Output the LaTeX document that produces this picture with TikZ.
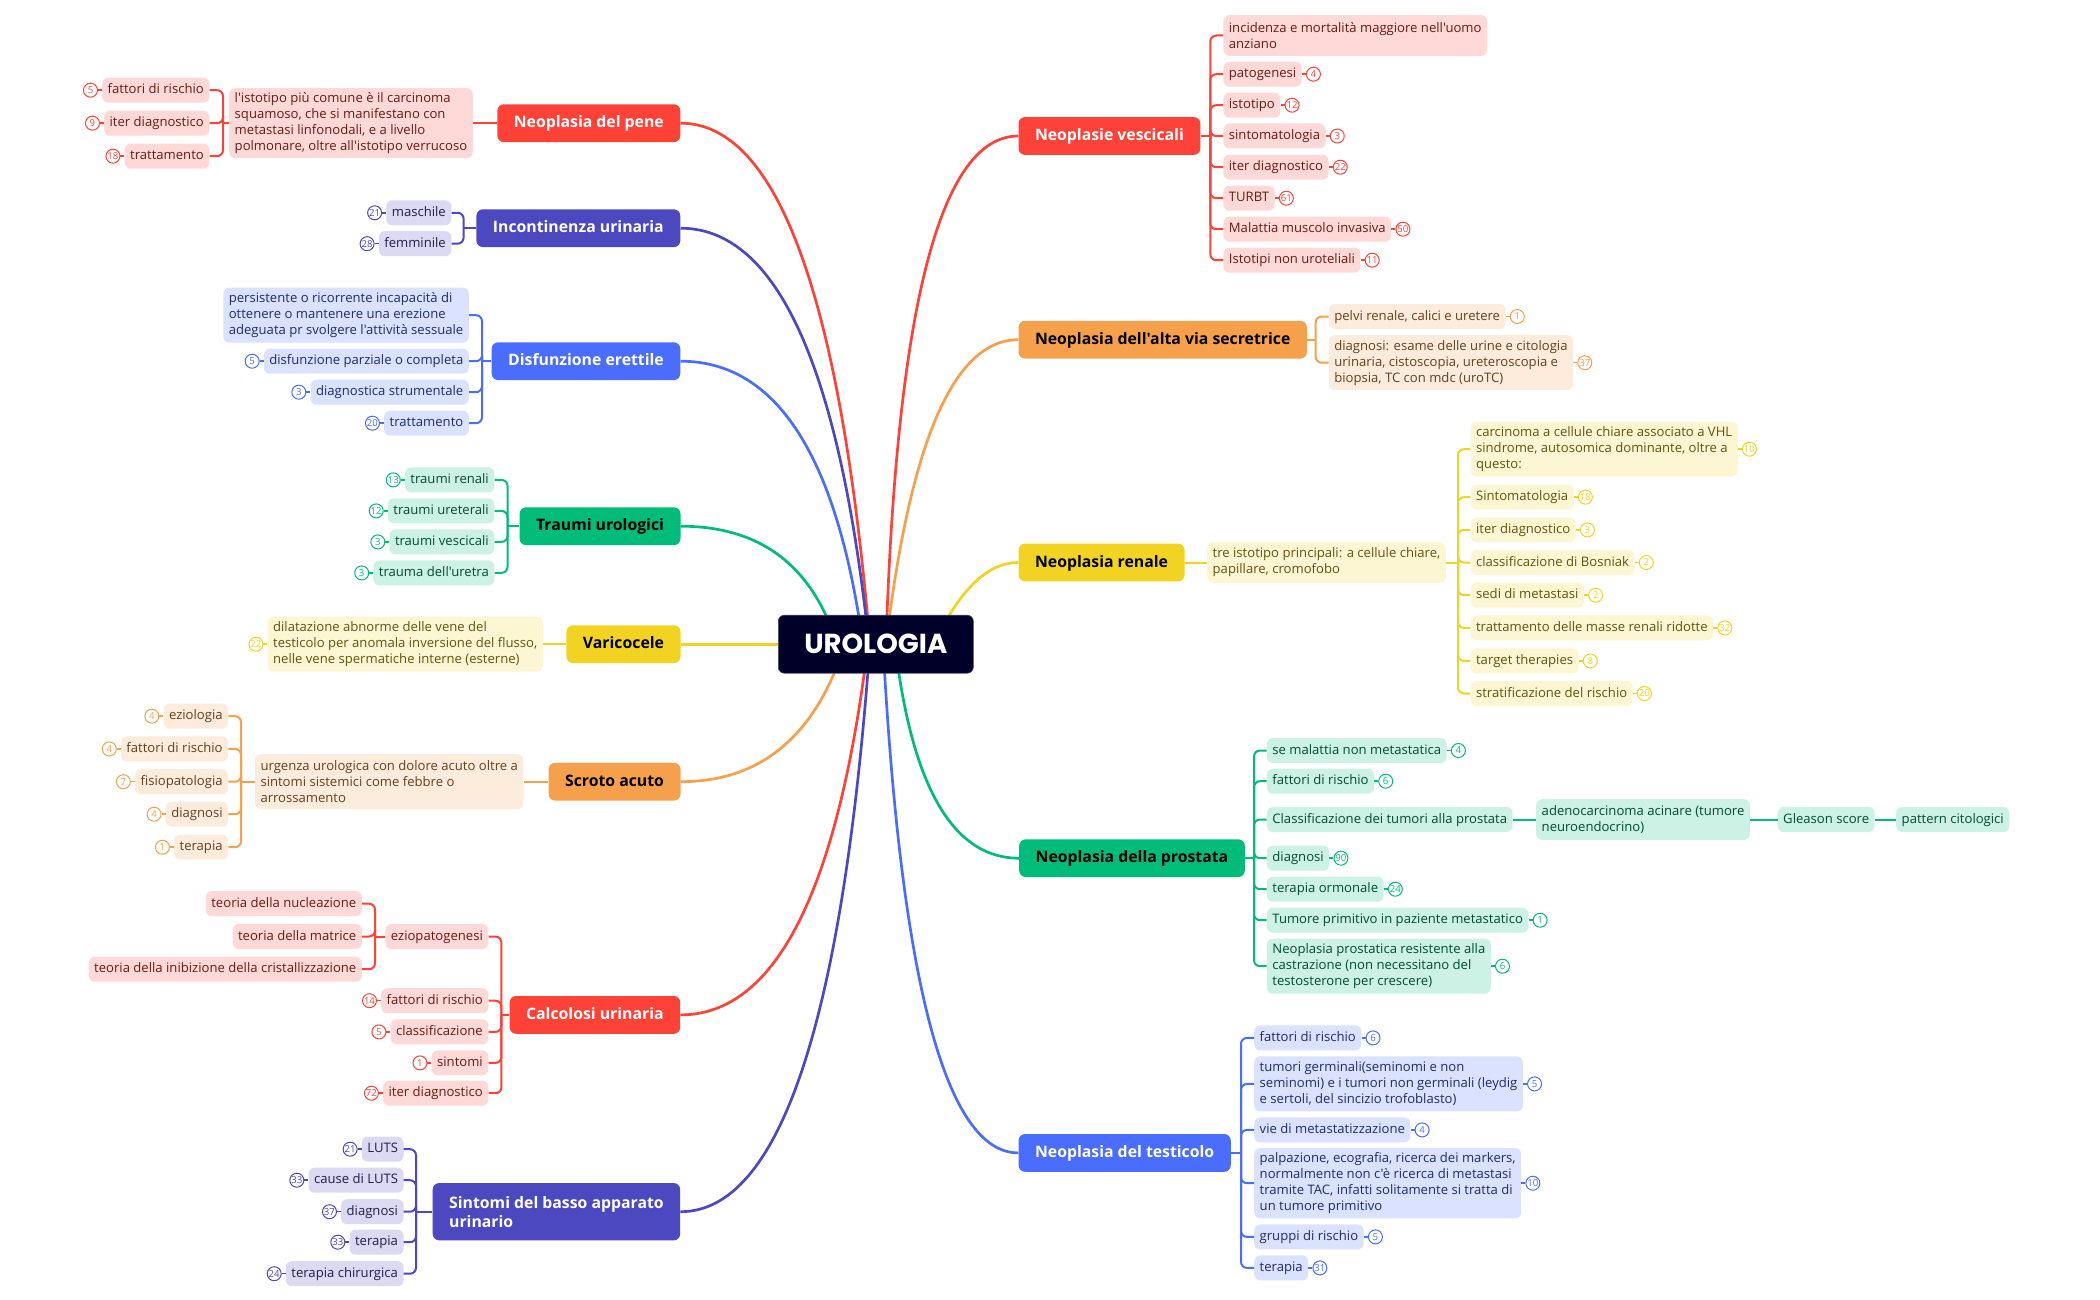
\documentclass[tikz,border=0pt]{standalone}
\usepackage{fontspec}
\setmainfont{Open Sans}[Ligatures=TeXOff]
\newfontfamily\rootfont{Poppins}
\usetikzlibrary{positioning,calc,backgrounds}

\definecolor{rootnavy}{HTML}{000028}
\definecolor{red}{HTML}{FF4238}
\definecolor{redlt}{HTML}{FFD9D7}
\definecolor{reddk}{HTML}{661A16}
\colorlet{redtxt}{white}
\definecolor{indigo}{HTML}{4C48BF}
\definecolor{indigolt}{HTML}{DBDAF2}
\definecolor{indigodk}{HTML}{1F1D4D}
\colorlet{indigotxt}{white}
\definecolor{blue}{HTML}{4A6DFF}
\definecolor{bluelt}{HTML}{DBE2FF}
\definecolor{bluedk}{HTML}{1E2C66}
\colorlet{bluetxt}{white}
\definecolor{green}{HTML}{00BC7B}
\definecolor{greenlt}{HTML}{CCF2E5}
\definecolor{greendk}{HTML}{004B31}
\colorlet{greentxt}{black}
\definecolor{yellow}{HTML}{F3D321}
\definecolor{yellowlt}{HTML}{FCF6D3}
\definecolor{yellowdk}{HTML}{61540D}
\colorlet{yellowtxt}{black}
\definecolor{orange}{HTML}{F7A04C}
\definecolor{orangelt}{HTML}{FDECDB}
\definecolor{orangedk}{HTML}{63401E}
\colorlet{orangetxt}{black}

\tikzset{
  rootbox/.style={rounded corners=6pt, fill=rootnavy, draw=rootnavy!70!white, line width=.6pt,
    text=white, minimum width=195pt, minimum height=58pt, inner sep=0pt,
    text height=19.2pt, text depth=0pt,
    font=\rootfont\bfseries\fontsize{27.5}{30}\selectfont},
  branch/.style={rounded corners=6.5pt, fill=#1, text=#1txt, inner xsep=16.5pt, inner ysep=0pt,
    minimum height=37.8pt, text height=12pt, text depth=3pt,
    font=\bfseries\fontsize{15.8}{19.2}\selectfont},
  leaf/.style={rounded corners=6pt, fill=#1lt, text=#1dk, inner xsep=5.5pt, inner ysep=0pt,
    minimum height=25pt, text height=10pt, text depth=2.5pt,
    font=\fontsize{13.1}{16}\selectfont},
  note/.style={rounded corners=6pt, fill=#1lt, text=#1dk, inner xsep=5.5pt, inner ysep=0pt,
    align=left, font=\fontsize{13.1}{16}\selectfont},
  badge/.style={circle, draw=#1, fill=white, text=#1, line width=1pt, minimum size=14pt,
    inner sep=0pt, font=\fontsize{9.6}{9.6}\selectfont},
  fork/.style={draw=#1, line width=2pt, rounded corners=6pt},
  stem/.style={draw=#1, line width=2pt},
  tick/.style={draw=#1, line width=1.5pt},
  trunk/.style={draw=#1, line width=2.7pt},
}

\begin{document}
\begin{tikzpicture}[x=1pt,y=-1pt]
  \useasboundingbox (0,-1.2) rectangle (2100,1298.8);

  \node[rootbox] (root) at (875.8,643) {UROLOGIA};

  % neoplasia del pene
  \node[branch=red, anchor=east] (pene) at (680.5,122) {Neoplasia del pene};
  \node[note=red, anchor=east, minimum height=70pt] (peneN) at (473,122) {l'istotipo più comune è il carcinoma\\squamoso, che si manifestano con\\metastasi linfonodali, e a livello\\polmonare, oltre all'istotipo verrucoso};
  \coordinate (peneS) at (223,122);
  \draw[stem=red] (pene) -- (peneN);
  \draw[stem=red] (peneN) -- (peneS);
  \foreach \i/\yy/\num/\txt in {1/89/5/fattori di rischio, 2/122/9/iter diagnostico, 3/155/18/trattamento} {
    \node[leaf=red, anchor=east] (peneL\i) at (209.5,\yy) {\txt};
    \node[badge=red, left=4pt of peneL\i] (peneB\i) {\num};
    \draw[tick=red] (peneB\i) -- (peneL\i);
    \draw[fork=red] (peneL\i.east) -| (peneS);
  }

  % incontinenza urinaria
  \node[branch=indigo, anchor=east] (inco) at (680.5,227) {Incontinenza urinaria};
  \coordinate (incoS) at (463.6,227);
  \draw[stem=indigo] (inco) -- (incoS);
  \foreach \i/\yy/\num/\txt in {1/211.6/21/maschile, 2/242.5/28/femminile} {
    \node[leaf=indigo, anchor=east] (incoL\i) at (451.5,\yy) {\txt};
    \node[badge=indigo, left=4pt of incoL\i] (incoB\i) {\num};
    \draw[tick=indigo] (incoB\i) -- (incoL\i);
    \draw[fork=indigo] (incoL\i.east) -| (incoS);
  }

  % disfunzione erettile
  \node[branch=blue, anchor=east] (disf) at (680.5,360) {Disfunzione erettile};
  \coordinate (disfS) at (482,360);
  \draw[stem=blue] (disf) -- (disfS);
  \node[note=blue, anchor=east, minimum height=55pt] (disfN) at (469,314) {persistente o ricorrente incapacità di\\ottenere o mantenere una erezione\\adeguata pr svolgere l'attività sessuale};
  \draw[fork=blue] (disfN.east) -| (disfS);
  \foreach \i/\yy/\num/\txt in {1/360/5/disfunzione parziale o completa, 2/391/3/diagnostica strumentale, 3/422/20/trattamento} {
    \node[leaf=blue, anchor=east] (disfL\i) at (469,\yy) {\txt};
    \node[badge=blue, left=4pt of disfL\i] (disfB\i) {\num};
    \draw[tick=blue] (disfB\i) -- (disfL\i);
    \draw[fork=blue] (disfL\i.east) -| (disfS);
  }

  % traumi urologici
  \node[branch=green, anchor=east] (trau) at (680.7,525) {Traumi urologici};
  \coordinate (trauS) at (507.5,525);
  \draw[stem=green] (trau) -- (trauS);
  \foreach \i/\yy/\num/\txt in {1/478.7/13/traumi renali, 2/509.7/12/traumi ureterali, 3/540.7/3/traumi vescicali, 4/571.7/3/trauma dell'uretra} {
    \node[leaf=green, anchor=east] (trauL\i) at (494.5,\yy) {\txt};
    \node[badge=green, left=4pt of trauL\i] (trauB\i) {\num};
    \draw[tick=green] (trauB\i) -- (trauL\i);
    \draw[fork=green] (trauL\i.east) -| (trauS);
  }

  % varicocele
  \node[branch=yellow, anchor=east] (vari) at (680.7,643) {Varicocele};
  \node[note=yellow, anchor=east, minimum height=55pt] (variN) at (543,643) {dilatazione abnorme delle vene del\\testicolo per anomala inversione del flusso,\\nelle vene spermatiche interne (esterne)};
  \node[badge=yellow, left=4pt of variN] (variB) {22};
  \draw[stem=yellow] (vari) -- (variN);
  \draw[tick=yellow] (variB) -- (variN);

  % scroto acuto
  \node[branch=orange, anchor=east] (scro) at (680.7,780.5) {Scroto acuto};
  \node[note=orange, anchor=east, minimum height=55pt] (scroN) at (523.6,780.5) {urgenza urologica con dolore acuto oltre a\\sintomi sistemici come febbre o\\arrossamento};
  \coordinate (scroS) at (241,780.5);
  \draw[stem=orange] (scro) -- (scroN);
  \draw[stem=orange] (scroN) -- (scroS);
  \foreach \i/\yy/\num/\txt in {1/715/4/eziologia, 2/747.7/4/fattori di rischio, 3/780.5/7/fisiopatologia, 4/813/4/diagnosi, 5/846/1/terapia} {
    \node[leaf=orange, anchor=east] (scroL\i) at (228.3,\yy) {\txt};
    \node[badge=orange, left=4pt of scroL\i] (scroB\i) {\num};
    \draw[tick=orange] (scroB\i) -- (scroL\i);
    \draw[fork=orange] (scroL\i.east) -| (scroS);
  }

  % calcolosi urinaria
  \node[branch=red, anchor=east] (calc) at (680.4,1013.7) {Calcolosi urinaria};
  \coordinate (calcS) at (501.4,1013.7);
  \draw[stem=red] (calc) -- (calcS);
  \node[leaf=red, anchor=east] (eziop) at (488.5,935.3) {eziopatogenesi};
  \coordinate (eziopS) at (375,935.3);
  \draw[fork=red] (eziop.east) -| (calcS);
  \draw[stem=red] (eziop) -- (eziopS);
  \foreach \i/\yy/\txt in {1/902.5/teoria della nucleazione, 2/935.3/teoria della matrice, 3/968/teoria della inibizione della cristallizzazione} {
    \node[leaf=red, anchor=east] (eziopL\i) at (362,\yy) {\txt};
    \draw[fork=red] (eziopL\i.east) -| (eziopS);
  }
  \foreach \i/\yy/\num/\txt in {1/999.5/14/fattori di rischio, 2/1030.7/5/classificazione, 3/1061.7/1/sintomi, 4/1092/72/iter diagnostico} {
    \node[leaf=red, anchor=east] (calcL\i) at (488.5,\yy) {\txt};
    \node[badge=red, left=4pt of calcL\i] (calcB\i) {\num};
    \draw[tick=red] (calcB\i) -- (calcL\i);
    \draw[fork=red] (calcL\i.east) -| (calcS);
  }

  % sintomi del basso apparato urinario
  \node[branch=indigo, anchor=east, align=left, minimum height=57.3pt, text height=, text depth=] (sint) at (680.4,1210.5) {Sintomi del basso apparato\\urinario};
  \coordinate (sintS) at (416,1210.5);
  \draw[stem=indigo] (sint) -- (sintS);
  \foreach \i/\yy/\num/\txt in {1/1148/21/LUTS, 2/1179/33/cause di LUTS, 3/1210.5/37/diagnosi, 4/1241/33/terapia, 5/1272.5/24/terapia chirurgica} {
    \node[leaf=indigo, anchor=east] (sintL\i) at (403.7,\yy) {\txt};
    \node[badge=indigo, left=4pt of sintL\i] (sintB\i) {\num};
    \draw[tick=indigo] (sintB\i) -- (sintL\i);
    \draw[fork=indigo] (sintL\i.east) -| (sintS);
  }

  % neoplasie vescicali
  \node[branch=red, anchor=west] (vesc) at (1018.3,134.8) {Neoplasie vescicali};
  \coordinate (vescS) at (1210.3,134.8);
  \draw[stem=red] (vesc) -- (vescS);
  \node[note=red, anchor=west, minimum height=40.7pt] (vescN) at (1223.2,34.3) {incidenza e mortalità maggiore nell'uomo\\anziano};
  \draw[fork=red] (vescN.west) -| (vescS);
  \foreach \i/\yy/\num/\txt in {1/73/4/patogenesi, 2/104/12/istotipo, 3/134.8/3/sintomatologia, 4/166/22/iter diagnostico, 5/197/61/TURBT, 6/228/50/Malattia muscolo invasiva, 7/259/11/Istotipi non uroteliali} {
    \node[leaf=red, anchor=west] (vescL\i) at (1223.2,\yy) {\txt};
    \node[badge=red, right=4pt of vescL\i] (vescB\i) {\num};
    \draw[tick=red] (vescL\i) -- (vescB\i);
    \draw[fork=red] (vescL\i.west) -| (vescS);
  }

  % neoplasia dell'alta via secretrice
  \node[branch=orange, anchor=west] (secr) at (1018.3,338.5) {Neoplasia dell'alta via secretrice};
  \coordinate (secrS) at (1315.6,338.5);
  \draw[stem=orange] (secr) -- (secrS);
  \node[leaf=orange, anchor=west] (secrL1) at (1328.6,315.3) {pelvi renale, calici e uretere};
  \node[badge=orange, right=4pt of secrL1] (secrB1) {1};
  \node[note=orange, anchor=west, minimum height=55pt] (secrL2) at (1328.6,361.5) {diagnosi: esame delle urine e citologia\\urinaria, cistoscopia, ureteroscopia e\\biopsia, TC con mdc (uroTC)};
  \node[badge=orange, right=4pt of secrL2] (secrB2) {37};
  \foreach \i in {1,2} {
    \draw[tick=orange] (secrL\i) -- (secrB\i);
    \draw[fork=orange] (secrL\i.west) -| (secrS);
  }

  % neoplasia renale
  \node[branch=yellow, anchor=west] (rena) at (1018.4,561.3) {Neoplasia renale};
  \node[note=yellow, anchor=west, minimum height=40.7pt] (renaN) at (1207,561.3) {tre istotipo principali: a cellule chiare,\\papillare, cromofobo};
  \coordinate (renaS) at (1458,561.3);
  \draw[stem=yellow] (rena) -- (renaN);
  \draw[stem=yellow] (renaN) -- (renaS);
  \node[note=yellow, anchor=west, minimum height=55pt] (renaL0) at (1470.4,448) {carcinoma a cellule chiare associato a VHL\\sindrome, autosomica dominante, oltre a\\questo:};
  \node[badge=yellow, right=4pt of renaL0] (renaB0) {10};
  \draw[tick=yellow] (renaL0) -- (renaB0);
  \draw[fork=yellow] (renaL0.west) -| (renaS);
  \foreach \i/\yy/\num/\txt in {1/496/18/Sintomatologia, 2/528.7/3/iter diagnostico, 3/561.3/2/classificazione di Bosniak, 4/594/2/sedi di metastasi, 5/626.7/32/trattamento delle masse renali ridotte, 6/659.7/8/target therapies, 7/692.3/20/stratificazione del rischio} {
    \node[leaf=yellow, anchor=west] (renaL\i) at (1470.4,\yy) {\txt};
    \node[badge=yellow, right=4pt of renaL\i] (renaB\i) {\num};
    \draw[tick=yellow] (renaL\i) -- (renaB\i);
    \draw[fork=yellow] (renaL\i.west) -| (renaS);
  }

  % neoplasia della prostata
  \node[branch=green, anchor=west] (pros) at (1019,857) {Neoplasia della prostata};
  \coordinate (prosS) at (1254,857);
  \draw[stem=green] (pros) -- (prosS);
  \foreach \i/\yy/\num/\txt in {1/749.3/4/se malattia non metastatica, 2/780/6/fattori di rischio, 3/857/90/diagnosi, 4/888/24/terapia ormonale, 5/919/1/Tumore primitivo in paziente metastatico} {
    \node[leaf=green, anchor=west] (prosL\i) at (1266.7,\yy) {\txt};
    \node[badge=green, right=4pt of prosL\i] (prosB\i) {\num};
    \draw[tick=green] (prosL\i) -- (prosB\i);
    \draw[fork=green] (prosL\i.west) -| (prosS);
  }
  \node[note=green, anchor=west, minimum height=55pt] (prosL6) at (1266.7,965) {Neoplasia prostatica resistente alla\\castrazione (non necessitano del\\testosterone per crescere)};
  \node[badge=green, right=4pt of prosL6] (prosB6) {6};
  \draw[tick=green] (prosL6) -- (prosB6);
  \draw[fork=green] (prosL6.west) -| (prosS);
  % the chain of the classification
  \node[leaf=green, anchor=west] (clas) at (1266.7,818.3) {Classificazione dei tumori alla prostata};
  \node[note=green, anchor=west, minimum height=40.7pt] (aden) at (1536,818.3) {adenocarcinoma acinare (tumore\\neuroendocrino)};
  \node[leaf=green, anchor=west] (glea) at (1777.5,818.3) {Gleason score};
  \node[leaf=green, anchor=west] (patt) at (1896,818.3) {pattern citologici};
  \draw[fork=green] (clas.west) -| (prosS);
  \draw[stem=green] (clas) -- (aden);
  \draw[stem=green] (aden) -- (glea);
  \draw[stem=green] (glea) -- (patt);

  % neoplasia del testicolo
  \node[branch=blue, anchor=west] (test) at (1018.4,1151.7) {Neoplasia del testicolo};
  \coordinate (testS) at (1241,1151.7);
  \draw[stem=blue] (test) -- (testS);
  \foreach \i/\yy/\num/\txt in {1/1036.7/6/fattori di rischio, 2/1128.7/4/vie di metastatizzazione, 3/1235.7/5/gruppi di rischio, 4/1266.7/31/terapia} {
    \node[leaf=blue, anchor=west] (testL\i) at (1254,\yy) {\txt};
    \node[badge=blue, right=4pt of testL\i] (testB\i) {\num};
    \draw[tick=blue] (testL\i) -- (testB\i);
    \draw[fork=blue] (testL\i.west) -| (testS);
  }
  \node[note=blue, anchor=west, minimum height=55pt] (testL5) at (1254,1082.7) {tumori germinali(seminomi e non\\seminomi) e i tumori non germinali (leydig\\e sertoli, del sincizio trofoblasto)};
  \node[badge=blue, right=4pt of testL5] (testB5) {5};
  \node[note=blue, anchor=west, minimum height=70.3pt] (testL6) at (1254,1182) {palpazione, ecografia, ricerca dei markers,\\normalmente non c'è ricerca di metastasi\\tramite TAC, infatti solitamente si tratta di\\un tumore primitivo};
  \node[badge=blue, right=4pt of testL6] (testB6) {10};
  \foreach \i in {5,6} {
    \draw[tick=blue] (testL\i) -- (testB\i);
    \draw[fork=blue] (testL\i.west) -| (testS);
  }

  % the curves to the root go behind everything
  \begin{scope}[on background layer]
    \foreach \from/\side/\cx/\ex/\tone in {pene/east/826/870/red, inco/east/825/869/indigo, disf/east/824/863/blue, trau/east/800/837/green, scro/east/801/845/orange, calc/east/823/868/red, sint/east/829/870/indigo, vesc/west/902/886/red, secr/west/922/886/orange, rena/west/972/934/yellow, pros/west/920/895/green, test/west/910/883/blue} {
      \coordinate (ctrl) at (\cx,0 |- \from.\side);
      \coordinate (hub) at (\ex,0 |- root.center);
      \draw[trunk=\tone] (\from.\side) .. controls ($(\from.\side)!.667!(ctrl)$) and ($(hub)!.667!(ctrl)$) .. (hub);
    }
    \draw[trunk=yellow] (vari) -- (root);
  \end{scope}
\end{tikzpicture}
\end{document}
